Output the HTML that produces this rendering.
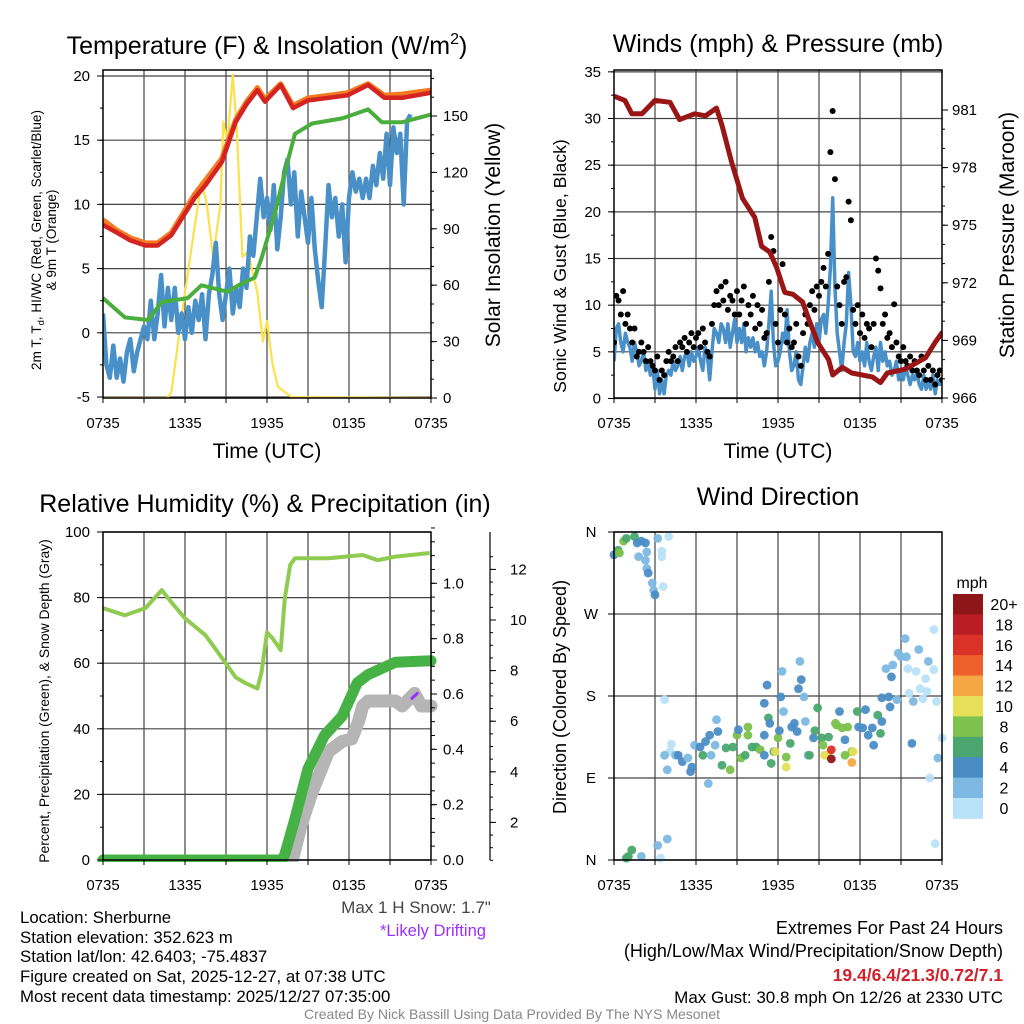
<!DOCTYPE html>
<html><head><meta charset="utf-8">
<style>
html,body{margin:0;padding:0;background:#fff;}
svg{display:block;font-family:"Liberation Sans",Arial,sans-serif;}
</style></head>
<body>
<svg id="fig" width="1024" height="1024" viewBox="0 0 1024 1024" xmlns="http://www.w3.org/2000/svg">
<defs>
<clipPath id="c1"><rect x="103" y="70" width="328" height="328"/></clipPath>
<clipPath id="c2"><rect x="614" y="70" width="328" height="329"/></clipPath>
<clipPath id="c3"><rect x="95" y="526" width="345" height="336"/></clipPath>
<clipPath id="c4"><rect x="606" y="526" width="345" height="342"/></clipPath>
</defs>
<rect x="0" y="0" width="1024" height="1024" fill="#fff"/>
<g id="p1"></g>
<g id="p2"></g>
<g id="p3"></g>
<g id="p4"></g>

<text x="267" y="54" font-size="25" text-anchor="middle">Temperature (F) &amp; Insolation (W/m<tspan font-size="16" dy="-10">2</tspan><tspan dy="10">)</tspan></text>
<text x="778" y="52" font-size="25" text-anchor="middle">Winds (mph) &amp; Pressure (mb)</text>
<text x="265" y="512" font-size="25" text-anchor="middle">Relative Humidity (%) &amp; Precipitation (in)</text>
<text x="778" y="505" font-size="25" text-anchor="middle">Wind Direction</text>

<text x="267" y="458" font-size="21" text-anchor="middle">Time (UTC)</text>
<text x="778" y="458" font-size="21" text-anchor="middle">Time (UTC)</text>

<text transform="translate(41,240) rotate(-90)" font-size="13.5" text-anchor="middle">2m T, T<tspan font-size="9.5" dy="3">d</tspan><tspan dy="-3">, HI/WC (Red, Green, Scarlet/Blue)</tspan></text>
<text transform="translate(56,240) rotate(-90)" font-size="13.5" text-anchor="middle">&amp; 9m T (Orange)</text>
<text transform="translate(500,235) rotate(-90)" font-size="21" text-anchor="middle">Solar Insolation (Yellow)</text>
<text transform="translate(566,266) rotate(-90)" font-size="17.7" text-anchor="middle">Sonic Wind &amp; Gust (Blue, Black)</text>
<text transform="translate(1014,235) rotate(-90)" font-size="21" text-anchor="middle">Station Pressure (Maroon)</text>
<text transform="translate(49,701) rotate(-90)" font-size="13.9" text-anchor="middle">Percent, Precipitation (Green), &amp; Snow Depth (Gray)</text>
<text transform="translate(566,697) rotate(-90)" font-size="18" text-anchor="middle">Direction (Colored By Speed)</text>

<text x="972" y="588" font-size="16" text-anchor="middle">mph</text>

<text x="416" y="913" font-size="17" text-anchor="middle" fill="#444">Max 1 H Snow: 1.7"</text>
<text x="433" y="936" font-size="16.6" text-anchor="middle" fill="#9b30ff">*Likely Drifting</text>

<g font-size="16.8">
<text x="20" y="923">Location: Sherburne</text>
<text x="20" y="943">Station elevation: 352.623 m</text>
<text x="20" y="962">Station lat/lon: 42.6403; -75.4837</text>
<text x="20" y="982">Figure created on Sat, 2025-12-27, at 07:38 UTC</text>
<text x="20" y="1002">Most recent data timestamp: 2025/12/27 07:35:00</text>
</g>
<g text-anchor="end">
<text x="1003" y="934" font-size="18">Extremes For Past 24 Hours</text>
<text x="1003" y="957" font-size="18">(High/Low/Max Wind/Precipitation/Snow Depth)</text>
<text x="1003" y="981" font-size="17.5" fill="#d0222a" font-weight="bold">19.4/6.4/21.3/0.72/7.1</text>
<text x="1003" y="1003" font-size="17">Max Gust: 30.8 mph On 12/26 at 2330 UTC</text>
</g>
<text x="512" y="1019" font-size="14" text-anchor="middle" fill="#888">Created By Nick Bassill Using Data Provided By The NYS Mesonet</text>
</svg>

<script>
// ---------- data ----------
const xTickLabels = ["0735","1335","1935","0135","0735"];
// panel 1
const tempTimes = [0,1,2,3.1,4,5,6.7,7.5,8.7,9.7,10.5,11.3,11.85,13,13.9,15,16.5,17.9,19.4,20.6,21.9,24];
const tempValues = [8.4,7.8,7.2,6.8,6.8,7.6,10.5,11.5,13.3,16.4,17.8,18.9,18,19.3,17.5,18.1,18.3,18.5,19.3,18.3,18.3,18.7];
const temp9mValues = [8.8,8.0,7.4,7.0,7.0,7.8,10.8,11.9,13.6,16.6,18.0,19.1,18.2,19.4,17.7,18.3,18.5,18.7,19.4,18.5,18.6,18.9];
const dewTimes = [0,1.6,3.3,4.3,6.2,7.2,9.1,9.9,11.1,11.6,12.6,13.3,14.05,15.3,17.5,19.4,20.4,21.9,24];
const dewValues = [2.7,1.2,1.0,2.4,2.7,3.7,3.2,3.7,4.3,5.8,9.4,12.5,15.5,16.3,16.7,17.4,16.4,16.4,17];
const windChillValues = [1.5,-2.5,-3.5,-1,-3.5,-2,-3.8,-1.5,-0.5,-3,-1.5,-0.5,0.5,-0.5,2.5,-0.5,1.5,4.5,0.5,3.5,1,3.5,0,1.5,-0.5,2,0,2.5,1,3,-0.5,3,4.5,7,3,1,3,5,1.5,3.5,2,5,3.5,7.5,6,9,12,9,10.5,8,11.5,6.5,9,12.5,13.5,10,12.5,7.5,11,9,7,10.5,6.5,4,2,6.5,11.5,9,10.5,7.5,10,5.5,10.5,12.5,11,12,10.5,12,10.5,13,11.5,14,12,15.5,11.5,16,14,15.5,10,16.5,17];
const solarTimes = [0,4.7,5.0,5.8,6.6,7.2,7.6,8.05,8.6,8.8,9.1,9.5,9.8,10.2,10.6,11.3,11.7,12.0,12.4,12.8,13.8,24];
const solarValues = [0,0,3,46,86,115,103,75,103,147,136,172,142,75,78,56,30,41,18,6,0.5,0];
const tempTicks = [-5,0,5,10,15,20];
const solarTicks = [0,30,60,90,120,150];
// panel 2
const windValues = [4,7.5,8,6,5,7, 6,5.5,4,6,5,3.5, 4,5,3,4,2.5,3.5, 1,3,0.5,2,0.5,2.5, 3,2.5,4,3,3.5,4.5, 3,4.5,5,3.5,5,4, 4.5,5.5,4,3,5.5,4.5, 2,5,7.5,7,6,8, 7.5,6,8,5.5,7,8.5, 6,7.5,6,8,5,6.5, 5.5,6.5,5,6,4.5,5, 3.5,5,8,11.5,6,3.5, 4,5,7,6,9.5,5, 3,3.5,5,2,1.5,3.5, 5.5,4,6,7,5.5,8, 6,8.5,9,7,10,14, 21.5,12,7,5,3,6, 8,13.5,10,5,4.5,6, 4,5,3.5,6,4,3, 4.5,5.5,3,6,4,5, 3.5,4,2.5,3,4,2, 3,2,3.5,2.5,1.5,2.5, 2,3,1.5,1,2.5,1, 2,1,2.5,0.5,2,1.5, 2];
const gustValues = [6,11,10.5,9,11.5,8, 9,7.5,6,7.5,4.5,5, 6,5,4,5.5,4,3.5, 3,4.5,2,3,2.5,4, 5,4,4.5,5.5,4,6, 5.5,6.5,5,6,7,5.5, 6.5,7,5.5,7.5,6,5, 4.5,8,10,11.5,10,12, 10.5,12.5,9.5,11,10.5,9, 11.5,9,10.5,12,8,10, 9,11,7.5,10,8,9.5, 6.5,7,12.5,17.3,15.8,8, 6,9.5,14.4,9,6,7.5, 5.5,6,8,4.5,3.5,7, 9,8,10,11.5,9.5,12, 11,12.5,14,12,15.5,26.4, 30.8,23.5,12,10,8,12.5, 13,21.1,19.1,9.5,8,10, 7,9,6.5,8,7.5,5.5, 8,15,13.7,11.8,8,9, 6.5,7,5.5,10.1,6,4.5, 4,5.5,4,3.5,4.5,3, 4,3,2.5,4.5,3,2, 3.5,2,3,1.5,2.5,3, 2];
const pressTimes = [0.07,0.8,1.3,2.05,3.0,4.1,4.8,5.9,6.7,7.5,7.9,8.6,9.4,10.3,10.8,11.4,11.9,12.5,13.1,13.8,14.2,14.9,15.7,16.0,16.7,17.4,18.9,19.5,20.0,21.3,22.8,23.5,24];
const pressValues = [981.7,981.5,980.8,980.8,981.5,981.4,980.5,980.8,980.7,981.1,980.2,978.3,976.4,975.4,973.9,973.6,972.8,971.5,971.4,971,970.2,968.9,968,967.2,967.6,967.3,967.1,966.8,967.3,967.5,968.1,968.9,969.4];
const windTicks = [0,5,10,15,20,25,30,35];
const pressTicks = [966,969,972,975,978,981];
// panel 3
const rhTimes = [0,1.6,3.1,3.8,4.3,5.0,6.0,7.5,8.2,9.1,9.7,10.4,11.3,11.6,12.0,12.4,13.0,13.3,13.7,14.05,16.5,19.0,20.1,21.4,23.9];
const rhValues = [76.8,74.6,76.8,80,82.3,78.6,73.7,68.5,64.5,59.3,55.7,54,52.3,57.2,69.4,67.6,64,79.8,90,92,92,93,91.4,92.5,93.6];
const precipTimes = [0,13.1,13.3,14.05,15.0,16.2,17.5,18.6,19.4,21.4,24];
const precipValues = [0,0,0.02,0.15,0.33,0.45,0.52,0.64,0.67,0.715,0.72];
const snowTimes = [0,13.6,13.8,14.5,15.3,16.5,17.5,18.2,18.7,19.0,19.4,21.4,21.9,22.8,23.3,24];
const snowValues = [0,0,0.4,1.9,3.2,4.8,5.2,5.3,6.0,6.6,6.8,6.8,6.6,7.1,6.6,6.6];
const driftTimes = [22.6,23.0];
const driftValues = [6.9,7.1];
const rhTicks = [0,20,40,60,80,100];
const precipTicks = [0.0,0.2,0.4,0.6,0.8,1.0];
const snowTicks = [2,4,6,8,10,12];
// panel 4
const dirTimes = [0,0.3,0.4,0.7,0.9,1.5,1.7,2.0,2.3,1.8,2.3,2.4,2.4,2.5,2.8,2.9,3.0,3.2,4.0,3.5,3.5,3.6,
 1.05,1.3,0.9,2.0,3.2,3.9,3.4,23.5,
 3.7,4.2,4.1,3.7,3.9,4.5,4.7,5.0,5.4,5.6,5.7,5.9,6.3,6.5,6.7,7.0,6.9,7.1,7.5,7.6,7.4,7.9,8.2,8.5,8.7,9.0,9.1,9.3,9.6,9.8,9.8,10.1,10.4,10.7,11.0,11.0,11.2,11.0,11.3,11.4,11.5,11.7,11.8,12.0,12.1,12.2,12.3,12.4,12.6,12.6,12.9,13.0,13.2,13.4,13.5,13.7,13.9,13.6,14.0,14.2,14.3,14.6,14.7,14.9,15.2,15.3,15.4,15.6,15.7,15.9,15.9,16.2,16.3,16.5,16.7,16.9,16.9,17.1,17.4,17.5,17.4,17.8,17.9,18.2,18.4,18.6,18.9,19.0,19.3,19.5,19.6,19.6,20.1,20.2,19.9,20.3,20.4,20.7,20.8,21.0,21.3,21.4,21.5,21.6,21.8,21.9,22.1,22.3,22.4,22.6,22.8,22.9,23.0,23.4,23.4,23.6,23.7,23.1,24.0];
const dirValues = [335,340,337,350,353,355,348,350,348,333,329,338,320,315,304,296,291,353,355,339,333,300,
 4,11,2,4,16,23,2,18,
 176,127,119,115,99,115,115,108,112,97,102,126,124,115,130,137,84,115,154,141,126,104,123,99,124,137,143,112,115,146,137,124,124,121,115,137,192,172,156,150,106,119,119,134,142,179,207,163,102,113,128,146,150,141,188,198,179,218,152,115,115,134,142,167,134,126,115,115,135,121,111,150,148,163,145,132,115,146,119,119,107,163,146,145,165,137,145,126,159,139,152,178,179,168,210,201,214,176,227,223,243,223,210,183,128,174,207,231,188,177,199,185,218,253,209,174,112,90,134];
const dirSpeeds = [4,7,8,8,6,6,4,4,4,3,3,3,3,4,3,3,4,3,1,1,1,1,
 6,6,7,3,3,2,1,1,
 1,1,1,2,2,2,4,4,3,4,4,2,4,6,4,4,2,2,2,4,3,7,6,8,7,8,4,8,7,8,8,6,6,8,4,4,4,4,6,4,6,7,10,8,4,4,2,2,10,8,6,4,4,4,4,4,2,2,2,2,6,4,6,6,7,8,10,10,6,16,20,8,8,4,8,4,8,8,8,10,12,6,4,4,4,4,4,4,6,6,4,4,4,4,3,4,3,3,3,3,3,3,1,1,4,2,1,3,1,1,1,1,3,1,1,1,3,1,1];
const speedBinLabels = ["20+","18","16","14","12","10","8","6","4","2","0"];
const speedBinColors = ["#8e1518","#bb1d25","#db3227","#ef612b","#f6a743","#e6df58","#7cc24c","#4aa66e","#4a8dc5","#7db9e3","#b8e2f7"];
const dirTickLabels = ["N","E","S","W","N"];
const dirTickValues = [0,90,180,270,360];

// ---------- helpers ----------
const NS = "http://www.w3.org/2000/svg";
function mk(tag, attrs, parent){
  const e = document.createElementNS(NS, tag);
  for (const k in attrs) e.setAttribute(k, attrs[k]);
  parent.appendChild(e);
  return e;
}
function pts(ts, vs, fx, fy){ return ts.map((t,i)=>fx(t).toFixed(1)+","+fy(vs[i]).toFixed(1)).join(" "); }
const X1 = t => 103 + t*328/24;
const X2 = t => 614 + t*328/24;

function grid(g, x0, y0, hYs){
  for (let h=3; h<24; h+=3){
    const x = x0 + h*328/24;
    const l = mk("line",{x1:x,y1:y0,x2:x,y2:y0+328,stroke:"#444","stroke-width":1.2},g);
    
    
  }
  hYs.forEach(y=>{
    const l = mk("line",{x1:x0,y1:y,x2:x0+328,y2:y,stroke:"#444","stroke-width":1.2},g);
    
    
  });
}
function xAxis(g, x0, yb, ly){
  for (let h=0; h<=24; h+=3){
    const x = x0 + h*328/24;
    const t = mk("line",{x1:x,y1:yb,x2:x,y2:yb+5,stroke:"#000","stroke-width":1},g);
    
    
  }
  xTickLabels.forEach((s,i)=>{
    const tx = mk("text",{x:x0+i*82,y:ly,"font-size":15,"text-anchor":"middle"},g);
    tx.textContent = s;
    
    
  });
}
function yTicks(g, x, vals, fy, dir, len, labels, lx, anchor){
  vals.forEach((v,i)=>{
    const y = fy(v);
    const t = mk("line",{x1:x,y1:y,x2:x+dir*len,y2:y,stroke:"#000","stroke-width":1},g);
    
    
    if (labels){
      const tx = mk("text",{x:lx,y:y+5,"font-size":15,"text-anchor":anchor},g);
      tx.textContent = labels[i];
      
      
    }
  });
}
function frame(g,x,y){
  const r = mk("rect",{x:x,y:y,width:328,height:328,fill:"none",stroke:"#000","stroke-width":1.5},g);
  
  
}
function range(a,b,s){const o=[];for(let v=a;v<=b+1e-9;v+=s)o.push(+v.toFixed(3));return o;}

// ---------- panel 1 ----------
(function(){
  const g = document.getElementById("p1");
  const yT = v => 76 + (20-v)*12.84;
  const yS = v => 398 - v*1.88;
  grid(g,103,70,tempTicks.map(yT));
  const c = mk("g",{"clip-path":"url(#c1)"},g);
  const sol = mk("polyline",{points:pts(solarTimes,solarValues,X1,yS),fill:"none",stroke:"#fce14b","stroke-width":2.2,"stroke-linejoin":"round"},c);
  
  
  const wcT = windChillValues.map((v,i)=>i*0.25);
  const wc = mk("polyline",{points:pts(wcT,windChillValues,X1,yT),fill:"none",stroke:"#4a90c8","stroke-width":4.5,"stroke-linejoin":"round"},c);
  
  
  const dw = mk("polyline",{points:pts(dewTimes,dewValues,X1,yT),fill:"none",stroke:"#4aae3c","stroke-width":4,"stroke-linejoin":"round"},c);
  
  
  const or = mk("polyline",{points:pts(tempTimes,temp9mValues,X1,yT),fill:"none",stroke:"#f47b20","stroke-width":5,"stroke-linejoin":"round"},c);
  
  
  const rd = mk("polyline",{points:pts(tempTimes,tempValues,X1,yT),fill:"none",stroke:"#d42323","stroke-width":4.5,"stroke-linejoin":"round"},c);
  
  
  frame(g,103,70);
  yTicks(g,103,range(-5,20,2.5),yT,-1,3);
  yTicks(g,103,tempTicks,yT,-1,6,tempTicks.map(String),90,"end");
  yTicks(g,431,range(0,170,10),yS,1,3);
  yTicks(g,431,solarTicks,yS,1,6,solarTicks.map(String),443,"start");
  xAxis(g,103,398,428);
})();

// ---------- panel 2 ----------
(function(){
  const g = document.getElementById("p2");
  const yW = v => 398.5 - v*9.333;
  const yP = p => 398 - (p-966)*19.2;
  grid(g,614,70,windTicks.map(yW));
  const c = mk("g",{"clip-path":"url(#c2)"},g);
  const tt = windValues.map((v,i)=>i/6);
  const wl = mk("polyline",{points:pts(tt,windValues,X2,yW),fill:"none",stroke:"#4a90c8","stroke-width":3.5,"stroke-linejoin":"round"},c);
  
  
  gustValues.forEach((v,i)=>{
    const d = mk("circle",{cx:X2(i/6),cy:yW(v),r:3,fill:"#000"},c);
    
    
  });
  const pl = mk("polyline",{points:pts(pressTimes,pressValues,X2,yP),fill:"none",stroke:"#9a1616","stroke-width":5,"stroke-linejoin":"round","stroke-linecap":"round"},c);
  
  
  frame(g,614,70);
  yTicks(g,614,range(0,35,2.5),yW,-1,3);
  yTicks(g,614,windTicks,yW,-1,6,windTicks.map(String),601,"end");
  yTicks(g,942,range(966,981,1),yP,1,3);
  yTicks(g,942,pressTicks,yP,1,6,pressTicks.map(String),952,"start");
  xAxis(g,614,398,428);
})();

// ---------- panel 3 ----------
(function(){
  const g = document.getElementById("p3");
  const yR = v => 860 - v*3.28;
  const yPr = v => 860 - v*276.7;
  const ySn = v => 873 - v*25.3;
  grid(g,103,532,rhTicks.map(yR));
  const c = mk("g",{"clip-path":"url(#c3)"},g);
  const rh = mk("polyline",{points:pts(rhTimes,rhValues,X1,yR),fill:"none",stroke:"#8fcb50","stroke-width":4,"stroke-linejoin":"round"},c);
  
  
  const sn = mk("polyline",{points:pts(snowTimes,snowValues,X1,ySn),fill:"none",stroke:"#b5b5b5","stroke-width":13,"stroke-linejoin":"round","stroke-linecap":"round"},c);
  
  
  const pr = mk("polyline",{points:pts(precipTimes,precipValues,X1,yPr),fill:"none",stroke:"#46b246","stroke-width":11,"stroke-linejoin":"round","stroke-linecap":"round"},c);
  
  
  const dr = mk("polyline",{points:pts(driftTimes,driftValues,X1,ySn),fill:"none",stroke:"#9b30ff","stroke-width":3,"stroke-linecap":"round"},c);
  
  
  frame(g,103,532);
  yTicks(g,103,range(0,100,10),yR,-1,3);
  yTicks(g,103,rhTicks,yR,-1,6,rhTicks.map(String),90,"end");
  yTicks(g,431,range(0,1.2,0.05),yPr,1,4);
  yTicks(g,431,precipTicks,yPr,1,6,precipTicks.map(v=>v.toFixed(1)),443,"start");
  const ax = mk("line",{x1:490,y1:532,x2:490,y2:860,stroke:"#000","stroke-width":1.2},g);
  
  
  yTicks(g,490,range(0.5,12.5,0.5),ySn,1,3);
  yTicks(g,490,snowTicks,ySn,1,6,snowTicks.map(String),510,"start");
  xAxis(g,103,860,890);
})();

// ---------- panel 4 ----------
(function(){
  const g = document.getElementById("p4");
  const yD = d => 860 - d*328/360;
  grid(g,614,532,dirTickValues.map(yD));
  const c = mk("g",{"clip-path":"url(#c4)"},g);
  function col(s){ let k = Math.floor(s/2); if (k>10) k=10; return speedBinColors[10-k]; }
  dirTimes.forEach((t,i)=>{
    const d = mk("circle",{cx:X2(t),cy:yD(dirValues[i]),r:4.4,fill:col(dirSpeeds[i]),"fill-opacity":0.95},c);
    
    
  });
  frame(g,614,532);
  dirTickValues.forEach((v,i)=>{
    const t = mk("line",{x1:614,y1:yD(v),x2:608,y2:yD(v),stroke:"#000","stroke-width":1},g);
    
    
    const tx = mk("text",{x:591,y:yD(v)+5,"font-size":15,"text-anchor":"middle"},g);
    tx.textContent = dirTickLabels[i];
    
    
  });
  xAxis(g,614,860,890);
  const cb = mk("g",{},g);
  
  
  speedBinColors.forEach((cl,i)=>{
    const r = mk("rect",{x:953,y:594+i*20.4,width:30,height:20.9,fill:cl},cb);
    
    
    const tx = mk("text",{x:1004,y:594+i*20.4+16,"font-size":16,"text-anchor":"middle"},cb);
    tx.textContent = speedBinLabels[i];
    
    
  });
})();
</script>
</body></html>
